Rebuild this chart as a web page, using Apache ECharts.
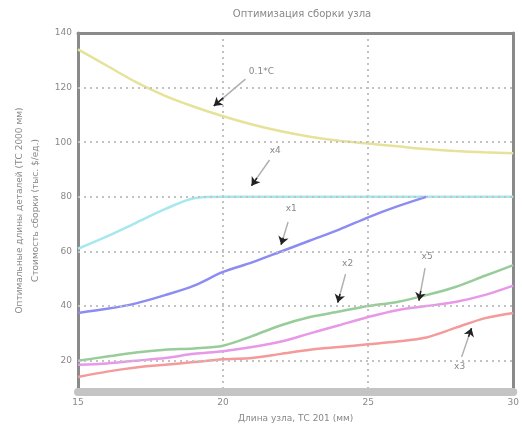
<!DOCTYPE html>
<html>
<head>
<meta charset="utf-8">
<script src="https://cdn.jsdelivr.net/npm/echarts@6/dist/echarts.min.js"></script>
<style>
  html, body { margin: 0; padding: 0; background: #fff; }
  #main { width: 522px; height: 428px; }
</style>
</head>
<body>
<div id="main"></div>
<script>
// длина узла (ось X)
var xs = [15, 16, 17, 18, 19, 20, 21, 22, 23, 24, 25, 26, 27, 28, 29, 30];
var cost = [134, 128, 122, 117, 113, 109.5, 106.5, 104, 102, 100.5, 99.5, 98.5, 97.5, 96.8, 96.3, 96]; // 0.1*C
var x4 = [61, 65.5, 70.5, 75.5, 79.5, 80, 80, 80, 80, 80, 80, 80, 80, 80, 80, 80];
var x1 = [37.5, 39, 41, 44, 47.5, 52.5, 56, 60, 64, 68, 72.5, 76.5, 80]; // до 27
var x2 = [20, 21.5, 23, 24, 24.5, 25.5, 29, 33, 36, 38, 40, 41.5, 44, 47, 51, 55];
var x5 = [18.5, 19, 20, 21, 22.5, 23.5, 25, 27, 30, 33, 36, 38.5, 40, 41.5, 44, 47.5];
var x3 = [14, 16, 17.5, 18.5, 19.5, 20.5, 21, 22.5, 24, 25, 26, 27, 28.5, 32, 35.5, 37.5];
var yTicks = [20, 40, 60, 80, 100, 120, 140];

// подписи со стрелками: [текст, x текста, y текста, x начала, y начала, x острия, y острия]
var notes = [
  ['0.1*C', 21.32, 126, 20.77, 123.1, 19.68, 113.3],
  ['x4', 21.8, 96.8, 21.6, 93.5, 20.98, 84.1],
  ['x1', 22.35, 75.5, 22.24, 70.8, 22.0, 62.5],
  ['x2', 24.29, 55.7, 24.22, 51.7, 23.95, 41.3],
  ['x5', 27.03, 58.2, 26.96, 53.9, 26.75, 42.0],
  ['x3', 28.15, 17.8, 28.22, 21.4, 28.56, 31.9]
];

function pairs(arr) {
  return arr.map(function (v, i) { return [xs[i], v]; });
}

function line(name, arr, color) {
  return {
    name: name,
    type: 'line',
    data: pairs(arr),
    smooth: 0.3,
    showSymbol: false,
    lineStyle: { color: color, width: 2.5 },
    z: 3
  };
}

var arrowLines = [];
var arrowHeads = [];
var noteLabels = [];
notes.forEach(function (n) {
  arrowLines.push([{ coord: [n[3], n[4]] }, { coord: [n[5], n[6]] }]);
  var mx = n[3] + (n[5] - n[3]) * 0.7, my = n[4] + (n[6] - n[4]) * 0.7;
  arrowHeads.push([{ coord: [mx, my] }, { coord: [n[5], n[6]] }]);
  noteLabels.push({ coord: [n[1], n[2]], value: n[0] });
});

var chart = echarts.init(document.getElementById('main'));
var gridDash = { color: '#c2c2c2', width: 2, type: [2, 4] };

chart.setOption({
  animation: false,
  title: {
    text: 'Оптимизация сборки узла',
    left: 297, top: 4, textAlign: 'center',
    textStyle: { fontSize: 10, fontWeight: 'normal', color: '#888', fontFamily: 'DejaVu Sans' }
  },
  grid: { left: 78, right: 5, top: 33, bottom: 36 },
  xAxis: [{
    type: 'value', min: 15, max: 30, interval: 5,
    offset: 4,
    axisLine: { lineStyle: { color: '#c4c4c4', width: 8 } },
    axisTick: { show: false },
    axisLabel: { color: '#888', fontSize: 9, margin: 6, fontFamily: 'DejaVu Sans' },
    splitLine: { show: true, lineStyle: gridDash },
    name: 'Длина узла, ТС 201 (мм)',
    nameLocation: 'middle', nameGap: 22,
    nameTextStyle: { color: '#888', fontSize: 9, fontFamily: 'DejaVu Sans' }
  }, {
    type: 'value', min: 15, max: 30, position: 'top',
    axisLine: { show: true, lineStyle: { color: '#8a8a8a', width: 3 } },
    axisTick: { show: false }, axisLabel: { show: false }, splitLine: { show: false }
  }],
  yAxis: [{
    type: 'value', min: 10, max: 140,
    axisLine: { show: true, lineStyle: { color: '#8a8a8a', width: 3 } },
    axisTick: { show: false, customValues: yTicks },
    axisLabel: { customValues: yTicks, color: '#888', fontSize: 9, margin: 6, fontFamily: 'DejaVu Sans' },
    splitLine: { show: false },
    name: 'Оптимальные длины деталей (ТС 2000 мм)\nСтоимость сборки (тыс. $/ед.)',
    nameLocation: 'middle', nameGap: 30, nameRotate: 90,
    nameTextStyle: { color: '#888', fontSize: 9, lineHeight: 16, fontFamily: 'DejaVu Sans' }
  }, {
    type: 'value', min: 10, max: 140, position: 'right',
    axisLine: { show: true, lineStyle: { color: '#8a8a8a', width: 3 } },
    axisTick: { show: false }, axisLabel: { show: false }, splitLine: { show: false }
  }],
  series: [
    {
      type: 'line', data: [], silent: true,
      markLine: {
        silent: true, symbol: 'none', animation: false,
        label: { show: false },
        lineStyle: gridDash,
        data: yTicks.slice(0, -1).map(function (v) { return { yAxis: v }; })
      }
    },
    line('0.1*C', cost, '#e6e29a'),
    line('x4', x4, '#a6e8ee'),
    {
      name: 'x1', type: 'line', smooth: 0.3, showSymbol: false,
      data: x1.map(function (v, i) { return [xs[i], v]; }),
      lineStyle: { color: '#8c8cf2', width: 2.5 }, z: 3
    },
    line('x2', x2, '#98cc98'),
    line('x5', x5, '#e898e8'),
    line('x3', x3, '#f49a9a'),
    {
      type: 'line', data: [], silent: true, z: 5,
      markLine: {
        silent: true, symbol: 'none', animation: false,
        label: { show: false },
        lineStyle: { color: '#b0b0b0', width: 1.5, type: 'solid' },
        data: arrowLines
      }
    },
    {
      type: 'line', data: [], silent: true, z: 6,
      markLine: {
        silent: true, symbol: ['none', 'arrow'], symbolSize: 8, animation: false,
        label: { show: false },
        lineStyle: { color: '#222', width: 1.5, type: 'solid' },
        data: arrowHeads
      },
      markPoint: {
        silent: true, symbol: 'circle', symbolSize: 1, animation: false,
        itemStyle: { color: 'rgba(0,0,0,0)' },
        label: {
          show: true, position: 'inside', color: '#888', fontSize: 9,
          fontFamily: 'DejaVu Sans', formatter: function (p) { return p.value; }
        },
        data: noteLabels
      }
    }
  ]
});
</script>
</body>
</html>
